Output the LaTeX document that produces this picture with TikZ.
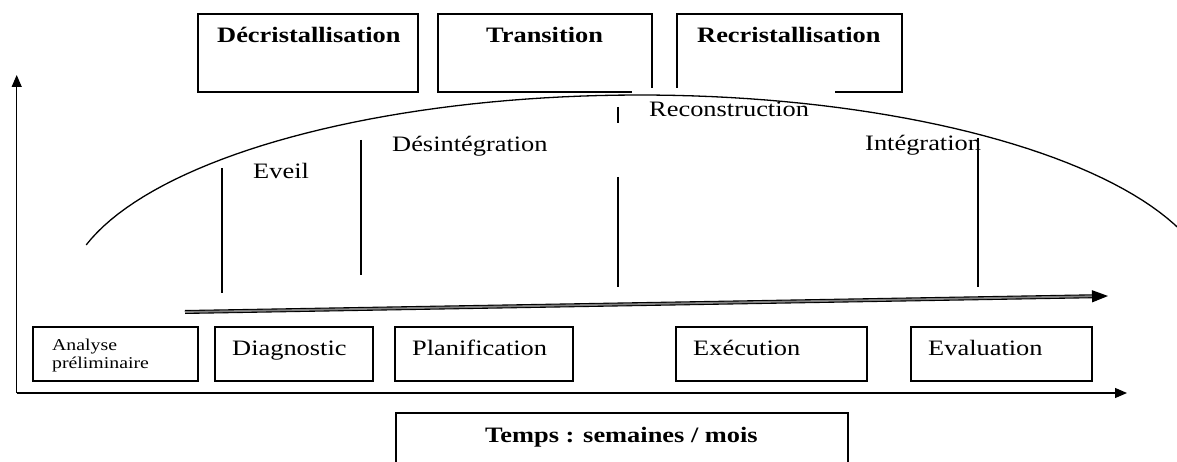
\documentclass[tikz,border=0pt]{standalone}
\usepackage{fontspec}
\setmainfont{Liberation Serif}[FakeStretch=1.2]
\usetikzlibrary{arrows.meta}
\usetikzlibrary{positioning}
\tikzset{every node/.style={inner sep=0pt},
    phasebox/.style={
        draw,
        line width=1.3pt},
    phasetitle/.style={
        anchor=base west,
        font=\fontsize{22}{26}\selectfont\bfseries},
    steplabel/.style={
        anchor=base west,
        font=\fontsize{22}{26}\selectfont},
    marker/.style={line width=1.3pt},
    axis/.style={
        line width=1.2pt,
        -{Triangle[length=12pt,width=10pt]}},
    timeline/.style={
        draw=black,
        double=black!50,
        line width=1.1pt,
        double distance=1.8pt,
        -{Triangle[length=16pt,width=12pt]}}}

\begin{document}
\begin{tikzpicture}[x=1pt,y=-1pt]
        \useasboundingbox (0,0) rectangle (1177,462);

        % phases du changement
        \node[phasebox,minimum width=220pt,minimum height=78pt] (decbox) at (308,53) {};
        \draw[phasebox] (652,88) -- (652,14) -- (438,14) -- (438,92) -- (632,92);
        \draw[phasebox] (677,88) -- (677,14) -- (902,14) -- (902,92) -- (835,92);
        \node[phasetitle] (decr) at (217,43) {Décristallisation};
        \node[phasetitle] (trans) at (486,43) {Transition};
        \node[phasetitle] (recr) at (697,43) {Recristallisation};

        % courbe
        \draw[line width=1.3pt] plot[domain=164.4:18,samples=80] ({640+575*cos(\x)},{300-205*sin(\x)});

        \node[steplabel] (eveil) at (253,179) {Eveil};
        \node[steplabel] (desint) at (392,152) {Désintégration};
        \node[steplabel] (recons) at (649,117) {Reconstruction};
        \node[steplabel] (integ) at (865,151) {Intégration};

        \draw[marker] (222,168) -- (222,293);
        \draw[marker] (361,140) -- (361,275);
        \draw[marker] (618,107) -- (618,123);
        \draw[marker] (618,177) -- (618,287);
        \draw[marker] (978,138) -- (978,287);

        \coordinate (tstart) at (185,312);
        \coordinate (tend) at (1108,296);
        \draw[timeline] (tstart) -- (tend);

        % etapes
        \node[phasebox,minimum width=165pt,minimum height=54pt] (anabox) at (115.5,354) {};
        \node[phasebox,minimum width=158pt,minimum height=54pt] (diagbox) at (294,354) {};
        \node[phasebox,minimum width=178pt,minimum height=54pt] (planbox) at (484,354) {};
        \node[phasebox,minimum width=191pt,minimum height=54pt] (execbox) at (771.5,354) {};
        \node[phasebox,minimum width=181pt,minimum height=54pt] (evalbox) at (1001.5,354) {};

        \node[anchor=base west,font=\fontsize{16.5}{18}\selectfont,align=left] (ana) at (52,368) {Analyse\\préliminaire};
        \node[steplabel] (diag) at (232,355) {Diagnostic};
        \node[steplabel] (plan) at (412,355) {Planification};
        \node[steplabel] (exec) at (693,355) {Exécution};
        \node[steplabel] (eval) at (928,355) {Evaluation};

        % axes
        \coordinate (origin) at (16.7,393);
        \coordinate (ytop) at (16.7,75);
        \coordinate (xend) at (1127,393);
        \draw[axis] (origin) -- (ytop);
        \draw[axis] (origin) -- (xend);

        \draw[phasebox] (396,470) |- (848,413) -- (848,470);
        \node[phasetitle] (temps) at (485,442) {Temps : semaines / mois};
    \end{tikzpicture}
\end{document}
